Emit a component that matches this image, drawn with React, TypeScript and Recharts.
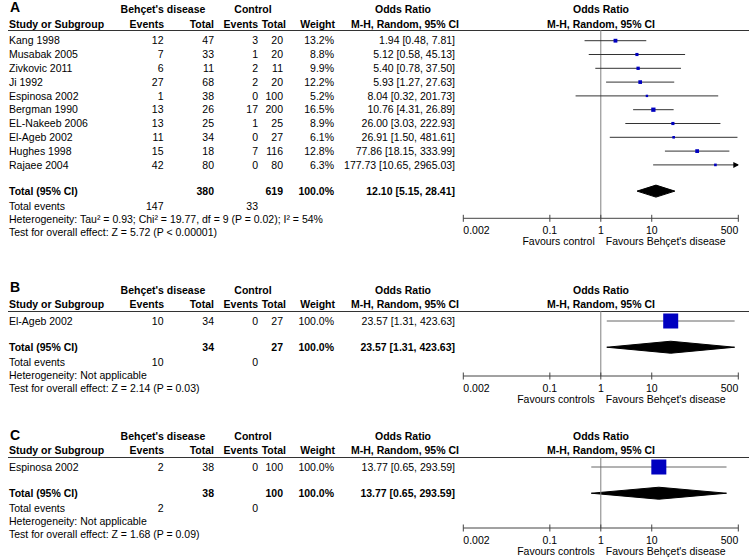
import React from 'react';
import { ComposedChart, XAxis, YAxis, Scatter, Area, ReferenceLine } from 'recharts';

const W = 749;
const H = 557;
const FONT = '"Liberation Sans", Arial, Helvetica, sans-serif';
const FS = 10.5;

// x axis (log) of the forest plot
const X_TICKS = [0.002, 0.1, 1, 10, 500];
const X_MIN = 0.002;
const X_MAX = 500;

// ---- A: all studies
const studiesA = ['Kang 1998', 'Musabak 2005', 'Zivkovic 2011', 'Ji 1992', 'Espinosa 2002', 'Bergman 1990', 'EL-Nakeeb 2006', 'El-Ageb 2002', 'Hughes 1998', 'Rajaee 2004'];
const bdEventsA = [12, 7, 6, 27, 1, 13, 13, 11, 15, 42];
const bdTotalA = [47, 33, 11, 68, 38, 26, 25, 34, 18, 80];
const ctEventsA = [3, 1, 2, 2, 0, 17, 1, 0, 7, 0];
const ctTotalA = [20, 20, 11, 20, 100, 200, 25, 27, 116, 80];
const weightA = [13.2, 8.8, 9.9, 12.2, 5.2, 16.5, 8.9, 6.1, 12.8, 6.3];
const orA = [1.94, 5.12, 5.4, 5.93, 8.04, 10.76, 26.0, 26.91, 77.86, 177.73];
const loA = [0.48, 0.58, 0.78, 1.27, 0.32, 4.31, 3.03, 1.5, 18.15, 10.65];
const hiA = [7.81, 45.13, 37.5, 27.63, 201.73, 26.89, 222.93, 481.61, 333.99, 2965.03];
const pooledA = [12.1, 5.15, 28.41];
const sumsA = [147, 380, 33, 619];

// ---- B
const studiesB = ['El-Ageb 2002'];
const bdEventsB = [10];
const bdTotalB = [34];
const ctEventsB = [0];
const ctTotalB = [27];
const weightB = [100.0];
const orB = [23.57];
const loB = [1.31];
const hiB = [423.63];
const pooledB = [23.57, 1.31, 423.63];
const sumsB = [10, 34, 0, 27];

// ---- C
const studiesC = ['Espinosa 2002'];
const bdEventsC = [2];
const bdTotalC = [38];
const ctEventsC = [0];
const ctTotalC = [100];
const weightC = [100.0];
const orC = [13.77];
const loC = [0.65];
const hiC = [293.59];
const pooledC = [13.77, 0.65, 293.59];
const sumsC = [2, 38, 0, 100];

const ROW = 13.8; // px per study row
const TOTAL_GAP = 1.9; // rows between last study and total
const FOOT = [15.5, 28.5, 41];
const PLOT_L = 463.3;
const PLOT_R = 738.3;
const XAXIS_H = 30;

const fmtCI = (o: number, l: number, h: number) => `${o.toFixed(2)} [${l.toFixed(2)}, ${h.toFixed(2)}]`;

const makePanel = (
  letter: string, studies: string[], bdE: number[], bdT: number[], ctE: number[], ctT: number[],
  w: number[], or: number[], lo: number[], hi: number[], pooled: number[], sums: number[],
  het: string, test: string, favours: string, sq: number,
  layout: { letterY: number; groupY: number; subY: number; lineY: number; firstY: number; axisY: number }
) => ({
  letter, favours, het, test, pooled, sums, sq, ...layout,
  rows: studies.map((s, i) => ({ name: s, bdE: bdE[i], bdT: bdT[i], ctE: ctE[i], ctT: ctT[i], w: w[i], or: or[i], lo: lo[i], hi: hi[i] })),
});

const panels = [
  makePanel('A', studiesA, bdEventsA, bdTotalA, ctEventsA, ctTotalA, weightA, orA, loA, hiA, pooledA, sumsA,
    'Heterogeneity: Tau² = 0.93; Chi² = 19.77, df = 9 (P = 0.02); I² = 54%',
    'Test for overall effect: Z = 5.72 (P < 0.00001)', 'Favours control', 1.05,
    { letterY: 7, groupY: 9, subY: 24, lineY: 30, firstY: 40.7, axisY: 218.3 }),
  makePanel('B', studiesB, bdEventsB, bdTotalB, ctEventsB, ctTotalB, weightB, orB, loB, hiB, pooledB, sumsB,
    'Heterogeneity: Not applicable', 'Test for overall effect: Z = 2.14 (P = 0.03)', 'Favours controls', 1.5,
    { letterY: 287, groupY: 290.5, subY: 304, lineY: 311, firstY: 321, axisY: 376 }),
  makePanel('C', studiesC, bdEventsC, bdTotalC, ctEventsC, ctTotalC, weightC, orC, loC, hiC, pooledC, sumsC,
    'Heterogeneity: Not applicable', 'Test for overall effect: Z = 1.68 (P = 0.09)', 'Favours controls', 1.5,
    { letterY: 435, groupY: 436, subY: 450.5, lineY: 457, firstY: 467, axisY: 528 }),
];

type PanelT = (typeof panels)[number];

const txt = { fontFamily: FONT, fontSize: FS, fill: '#000' } as const;

const T = ({ x, y, a = 'start', b = false, children }: any) => (
  <text x={x} y={y} dy="0.35em" textAnchor={a} fontWeight={b ? 'bold' : 'normal'} {...txt}>{children}</text>
);

// table rows are drawn as y-axis ticks so they share the chart's row scale
const RowTick = (props: any) => {
  const { y, payload, panel } = props;
  const p: PanelT = panel;
  const v = payload.value;
  const n = p.rows.length;
  if (v < n) {
    const r = p.rows[v];
    return (
      <g>
        <T x={9} y={y}>{r.name}</T>
        <T x={163.5} y={y} a="end">{r.bdE}</T>
        <T x={214} y={y} a="end">{r.bdT}</T>
        <T x={258} y={y} a="end">{r.ctE}</T>
        <T x={283} y={y} a="end">{r.ctT}</T>
        <T x={334} y={y} a="end">{r.w.toFixed(1)}%</T>
        <T x={455} y={y} a="end">{fmtCI(r.or, r.lo, r.hi)}</T>
      </g>
    );
  }
  const [pe, pl, ph] = p.pooled;
  const [se, st, ce, ct] = p.sums;
  return (
    <g>
      <T x={9} y={y} b>Total (95% CI)</T>
      <T x={214} y={y} a="end" b>{st}</T>
      <T x={283} y={y} a="end" b>{ct}</T>
      <T x={334} y={y} a="end" b>100.0%</T>
      <T x={455} y={y} a="end" b>{fmtCI(pe, pl, ph)}</T>
      <T x={9} y={y + FOOT[0]}>Total events</T>
      <T x={163.5} y={y + FOOT[0]} a="end">{se}</T>
      <T x={258} y={y + FOOT[0]} a="end">{ce}</T>
      <T x={9} y={y + FOOT[1]}>{p.het}</T>
      <T x={9} y={y + FOOT[2]}>{p.test}</T>
    </g>
  );
};

const XTick = (props: any) => {
  const { x, y, payload, favours } = props;
  const v = payload.value;
  const anchor = v === X_MIN ? 'start' : v === X_MAX ? 'end' : 'middle';
  return (
    <g>
      <line x1={x} x2={x} y1={y - 3.5} y2={y + 3.5} stroke="#444" strokeWidth={1} />
      <T x={x} y={y + 12} a={anchor}>{String(v)}</T>
      {v === 1 && (
        <>
          <T x={x - 6} y={y + 23.5} a="end">{favours}</T>
          <T x={x + 5} y={y + 23.5}>Favours Behçet's disease</T>
        </>
      )}
    </g>
  );
};

const Square = (props: any) => {
  const { cx, cy, payload } = props;
  const s = payload.s;
  return <rect x={cx - s / 2} y={cy - s / 2} width={s} height={s} fill="#0000c0" />;
};

const Arrow = (props: any) => {
  const { cx, cy } = props;
  return <polygon points={`${cx + 1},${cy} ${cx - 5},${cy - 3} ${cx - 5},${cy + 3}`} fill="#000" />;
};

const PanelChart = ({ p }: { p: PanelT }) => {
  const n = p.rows.length;
  const totalRow = n - 1 + TOTAL_GAP;
  const yMin = -(p.firstY - p.lineY) / ROW;
  const yMax = (p.axisY - p.firstY) / ROW;
  const squares = p.rows.map((r, i) => ({ x: r.or, y: i, s: p.sq * Math.sqrt(r.w) }));
  const arrows = p.rows.map((r, i) => ({ x: X_MAX, y: i, over: r.hi > X_MAX })).filter((d) => d.over);
  const h = 6 / ROW;
  const diamond = [
    { x: p.pooled[1], d: [totalRow, totalRow] },
    { x: p.pooled[0], d: [totalRow - h, totalRow + h] },
    { x: p.pooled[2], d: [totalRow, totalRow] },
  ];
  const lineColor = n > 1 ? '#333' : '#666';
  return (
    <div style={{ position: 'absolute', left: 0, top: 0 }}>
      <ComposedChart
        width={W}
        height={H}
        margin={{ top: p.lineY, right: W - PLOT_R, bottom: H - p.axisY - XAXIS_H, left: PLOT_L - 1 }}
      >
        <XAxis
          type="number"
          dataKey="x"
          scale="log"
          domain={[X_MIN, X_MAX]}
          allowDataOverflow
          ticks={X_TICKS}
          interval={0}
          height={XAXIS_H}
          stroke="#444"
          tickLine={false}
          tickSize={0}
          tickMargin={0}
          tick={<XTick favours={p.favours} />}
        />
        <YAxis
          type="number"
          dataKey="y"
          domain={[yMin, yMax]}
          allowDataOverflow
          reversed
          width={1}
          axisLine={false}
          tickLine={false}
          interval={0}
          ticks={[...p.rows.map((_, i) => i), totalRow]}
          tick={<RowTick panel={p} />}
        />
        <ReferenceLine x={1} stroke="#808080" strokeWidth={1} />
        {p.rows.map((r, i) => (
          <ReferenceLine
            key={r.name}
            segment={[{ x: r.lo, y: i }, { x: Math.min(r.hi, X_MAX), y: i }]}
            stroke={lineColor}
            strokeWidth={1}
          />
        ))}
        <Area data={diamond} dataKey="d" type="linear" fill="#000" fillOpacity={1} stroke="#000" isAnimationActive={false} />
        <Scatter data={squares} shape={<Square />} isAnimationActive={false} />
        {arrows.length > 0 && <Scatter data={arrows} shape={<Arrow />} isAnimationActive={false} />}
      </ComposedChart>
    </div>
  );
};

const Headers = ({ p }: { p: PanelT }) => (
  <g>
    <text x={10} y={p.letterY} dy="0.35em" fontFamily={FONT} fontSize={14} fontWeight="bold">{p.letter}</text>
    <T x={163} y={p.groupY} a="middle" b>Behçet's disease</T>
    <T x={253} y={p.groupY} a="middle" b>Control</T>
    <T x={403} y={p.groupY} a="middle" b>Odds Ratio</T>
    <T x={601} y={p.groupY} a="middle" b>Odds Ratio</T>
    <T x={9} y={p.subY} b>Study or Subgroup</T>
    <T x={164} y={p.subY} a="end" b>Events</T>
    <T x={214} y={p.subY} a="end" b>Total</T>
    <T x={258} y={p.subY} a="end" b>Events</T>
    <T x={286} y={p.subY} a="end" b>Total</T>
    <T x={335} y={p.subY} a="end" b>Weight</T>
    <T x={405} y={p.subY} a="middle" b>M-H, Random, 95% CI</T>
    <T x={601} y={p.subY} a="middle" b>M-H, Random, 95% CI</T>
    <line x1={8} x2={W} y1={p.lineY + 0.5} y2={p.lineY + 0.5} stroke="#333" strokeWidth={1} />
  </g>
);

export default function App() {
  return (
    <div style={{ position: 'absolute', left: 0, top: 0, width: W, height: H, background: '#fff', overflow: 'hidden' }}>
      <svg width={W} height={H} style={{ position: 'absolute', left: 0, top: 0 }}>
        {panels.map((p) => (
          <Headers key={p.letter} p={p} />
        ))}
      </svg>
      {panels.map((p) => (
        <PanelChart key={p.letter} p={p} />
      ))}
    </div>
  );
}
